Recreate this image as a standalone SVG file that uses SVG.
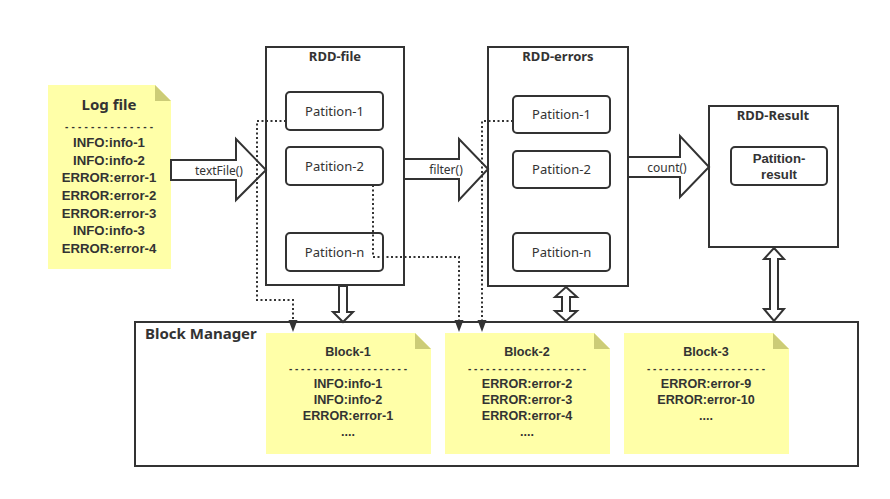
<svg xmlns="http://www.w3.org/2000/svg" width="890" height="499" viewBox="0 0 890 499">
<style>
text{font-family:"Noto Sans","Liberation Sans",sans-serif;fill:#333}
.b{font-weight:bold}
.box{fill:#fff;stroke:#333;stroke-width:2}
.part{fill:#fff;stroke:#333;stroke-width:2}
.note{fill:#ffffa8}
.fold{fill:#cccc77}
.ba{fill:#fff;stroke:#333;stroke-width:2;stroke-linejoin:miter}
.dot{fill:none;stroke:#333;stroke-width:2;stroke-dasharray:2 2.5}
.ah{fill:#333}
.pt{font-size:13px}
.nl{font-family:"Liberation Sans","Noto Sans",sans-serif;font-size:13.2px;font-weight:bold}
.nt{font-family:"Liberation Sans","Noto Sans",sans-serif;font-size:12.6px;font-weight:bold}
.dash{font-family:"Liberation Sans",sans-serif;font-size:10px;font-weight:bold}
.lbl{font-size:12px}
</style>
<rect width="890" height="499" fill="#fff"/>

<g id="block-manager">
<rect class="box" x="135" y="322" width="723" height="144"/>
<text class="b" x="145" y="339" font-size="15">Block Manager</text>
</g>

<g id="log-file">
<path class="note" d="M48,85 H155 L171,101 V269 H48 Z"/>
<path class="fold" d="M155,85 L171,101 H155 Z"/>
<text class="b" x="109" y="110" text-anchor="middle" font-size="15">Log file</text>
<text class="dash" x="109" y="130" text-anchor="middle" textLength="88" lengthAdjust="spacing">--------------</text>
<text class="nl" x="109" y="147" text-anchor="middle">INFO:info-1</text>
<text class="nl" x="109" y="164.5" text-anchor="middle">INFO:info-2</text>
<text class="nl" x="109" y="182" text-anchor="middle">ERROR:error-1</text>
<text class="nl" x="109" y="200" text-anchor="middle">ERROR:error-2</text>
<text class="nl" x="109" y="217.5" text-anchor="middle">ERROR:error-3</text>
<text class="nl" x="109" y="235" text-anchor="middle">INFO:info-3</text>
<text class="nl" x="109" y="253" text-anchor="middle">ERROR:error-4</text>
</g>

<g id="rdd-file">
<rect class="box" x="266" y="47" width="138" height="238"/>
<text class="b" x="335" y="61" text-anchor="middle" font-size="13">RDD-file</text>
<rect class="part" x="286" y="92" width="97" height="38" rx="4"/>
<text class="pt" x="334.5" y="116" text-anchor="middle">Patition-1</text>
<rect class="part" x="286" y="147" width="97" height="38" rx="4"/>
<text class="pt" x="334.5" y="171" text-anchor="middle">Patition-2</text>
<rect class="part" x="286" y="233" width="97" height="38" rx="4"/>
<text class="pt" x="334.5" y="257" text-anchor="middle">Patition-n</text>
</g>

<g id="rdd-errors">
<rect class="box" x="488" y="47" width="140" height="239"/>
<text class="b" x="558" y="61" text-anchor="middle" font-size="13">RDD-errors</text>
<rect class="part" x="513" y="96" width="97" height="37" rx="4"/>
<text class="pt" x="561.5" y="119" text-anchor="middle">Patition-1</text>
<rect class="part" x="513" y="151" width="97" height="37" rx="4"/>
<text class="pt" x="561.5" y="174" text-anchor="middle">Patition-2</text>
<rect class="part" x="513" y="233" width="97" height="38" rx="4"/>
<text class="pt" x="561.5" y="257" text-anchor="middle">Patition-n</text>
</g>

<g id="rdd-result">
<rect class="box" x="709" y="106" width="129" height="141"/>
<text class="b" x="773" y="120" text-anchor="middle" font-size="13">RDD-Result</text>
<rect class="part" x="731" y="147" width="96" height="38" rx="4"/>
<text class="nl" text-anchor="middle"><tspan x="779" y="163">Patition-</tspan><tspan x="779" y="179">result</tspan></text>
</g>

<g id="block-1">
<path class="note" d="M266,333 H415 L431,349 V454 H266 Z"/>
<path class="fold" d="M415,333 L431,349 H415 Z"/>
<text class="nt" x="348" y="356" text-anchor="middle">Block-1</text>
<text class="dash" x="348" y="372" text-anchor="middle" textLength="118" lengthAdjust="spacing">--------------------</text>
<text class="nt" x="348" y="388" text-anchor="middle">INFO:info-1</text>
<text class="nt" x="348" y="404" text-anchor="middle">INFO:info-2</text>
<text class="nt" x="348" y="420" text-anchor="middle">ERROR:error-1</text>
<text class="nt" x="348" y="436" text-anchor="middle">....</text>
</g>

<g id="block-2">
<path class="note" d="M445,333 H594 L610,349 V454 H445 Z"/>
<path class="fold" d="M594,333 L610,349 H594 Z"/>
<text class="nt" x="527" y="356" text-anchor="middle">Block-2</text>
<text class="dash" x="527" y="372" text-anchor="middle" textLength="118" lengthAdjust="spacing">--------------------</text>
<text class="nt" x="527" y="388" text-anchor="middle">ERROR:error-2</text>
<text class="nt" x="527" y="404" text-anchor="middle">ERROR:error-3</text>
<text class="nt" x="527" y="420" text-anchor="middle">ERROR:error-4</text>
<text class="nt" x="527" y="436" text-anchor="middle">....</text>
</g>

<g id="block-3">
<path class="note" d="M624,333 H773 L789,349 V454 H624 Z"/>
<path class="fold" d="M773,333 L789,349 H773 Z"/>
<text class="nt" x="706" y="356" text-anchor="middle">Block-3</text>
<text class="dash" x="706" y="372" text-anchor="middle" textLength="118" lengthAdjust="spacing">--------------------</text>
<text class="nt" x="706" y="388" text-anchor="middle">ERROR:error-9</text>
<text class="nt" x="706" y="404" text-anchor="middle">ERROR:error-10</text>
<text class="nt" x="706" y="420" text-anchor="middle">....</text>
</g>

<g id="connectors">
<polygon class="ba" points="171,160 236,160 236,139 266,170 236,200 236,180 171,180"/>
<text class="lbl" x="219" y="175" text-anchor="middle">textFile()</text>
<polygon class="ba" points="404,159 459,159 459,139 488,169 459,200 459,179 404,179"/>
<text class="lbl" x="446" y="174" text-anchor="middle">filter()</text>
<polygon class="ba" points="628,157 680,157 680,136 709,167 680,197 680,177 628,177"/>
<text class="lbl" x="667" y="172" text-anchor="middle">count()</text>
<polygon class="ba" points="339,286 347,286 347,312 353,312 343,322 333,312 339,312"/>
<polygon class="ba" points="566,287 577,297 570,297 570,311 577,311 566,321 555,311 562,311 562,297 555,297"/>
<polygon class="ba" points="774,248 784,259 778,259 778,309 784,309 774,321 764,309 770,309 770,259 764,259"/>
<path class="dot" d="M286,121 H257 V300 H293 V320"/>
<path class="ah" d="M288.5,320 H297.5 L293,332 Z"/>
<path class="dot" d="M373,185 V257 H459 V320"/>
<path class="ah" d="M454.5,320 H463.5 L459,332 Z"/>
<path class="dot" d="M513,121 H482 V320"/>
<path class="ah" d="M477.5,320 H486.5 L482,332 Z"/>
</g>
</svg>
